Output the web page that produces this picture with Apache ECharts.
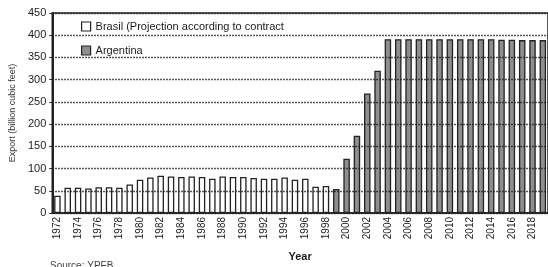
<!DOCTYPE html>
<html>
<head>
<meta charset="utf-8">
<script src="https://cdn.jsdelivr.net/npm/echarts@6/dist/echarts.min.js"></script>
<style>
  html, body { margin: 0; padding: 0; background: #fff; }
  #cv { width: 548px; height: 267px; }
</style>
</head>
<body>
<div id="cv"></div>
<script>
var years = [];
for (var y = 1972; y <= 2019; y++) years.push(String(y));

// Brasil (projection according to contract), 1972-1998
var brasil = [39, 57, 57, 55, 58, 58, 57, 64, 75, 80, 84, 82, 81, 82, 81, 77, 82, 81, 81, 79, 77, 77, 80, 75, 77, 59, 61];
// Argentina, 1999-2019
var argentina = [54, 122, 174, 269, 320, 391, 391, 391, 391, 391, 391, 391, 391, 391, 391, 391, 390, 390, 389, 389, 389];

var yTicks = { min: 0, max: 450, interval: 50 };

var brasilData = years.map(function (d, i) { return i < brasil.length ? brasil[i] : null; });
var argData = years.map(function (d, i) {
    var k = i - brasil.length;
    return k >= 0 ? argentina[k] : null;
});

var chart = echarts.init(document.getElementById('cv'));
var txt = '#1c1c1c';
var font = 'Liberation Sans';

var option = {
    animation: false,
    backgroundColor: '#fff',
    textStyle: { fontFamily: font, color: txt },
    grid: {
        left: 47, top: 13, right: -4, bottom: 45,
        show: true, borderColor: '#222', borderWidth: 1.5, backgroundColor: 'transparent'
    },
    legend: {
        orient: 'vertical',
        left: 76, top: 16,
        z: 10,
        itemWidth: 9, itemHeight: 9, itemGap: 13,
        textStyle: { fontFamily: font, fontSize: 11, color: txt },
        data: [
            { name: 'Brasil (Projection according to contract', icon: 'rect',
              itemStyle: { color: '#fff', borderColor: '#222', borderWidth: 1.2 } },
            { name: 'Argentina', icon: 'rect',
              itemStyle: { color: '#8e8e8e', borderColor: '#222', borderWidth: 1.2 } }
        ]
    },
    xAxis: {
        type: 'category',
        data: years,
        name: 'Year',
        nameLocation: 'middle',
        nameGap: 38,
        nameTextStyle: { fontFamily: font, fontSize: 11, fontWeight: 'bold', color: txt },
        axisLine: { lineStyle: { color: '#222', width: 1.5 } },
        axisTick: { show: false },
        axisLabel: { interval: 1, rotate: 90, fontSize: 10, color: txt, margin: 4 }
    },
    yAxis: {
        type: 'value',
        min: yTicks.min, max: yTicks.max, interval: yTicks.interval,
        z: 5,
        name: 'Export (billion cubic feet)',
        nameLocation: 'middle',
        nameGap: 33,
        nameTextStyle: { fontFamily: font, fontSize: 9, color: '#333' },
        axisLine: { show: true, lineStyle: { color: '#222', width: 2 } },
        axisTick: { show: true, length: 3, lineStyle: { color: '#222' } },
        axisLabel: { fontSize: 11, color: txt, margin: 6 },
        splitLine: { show: true, lineStyle: { color: '#222', type: [1.5, 1.5], width: 1.3 } }
    },
    series: [
        {
            name: 'Brasil (Projection according to contract',
            type: 'bar',
            data: brasilData,
            barWidth: 6.5,
            barGap: '-100%',
            itemStyle: { color: '#fff', borderColor: '#222', borderWidth: 1.3 }
        },
        {
            name: 'Argentina',
            type: 'bar',
            data: argData,
            barWidth: 6.5,
            itemStyle: { color: '#8e8e8e', borderColor: '#222', borderWidth: 1.3 }
        }
    ],
    graphic: [
        { type: 'text', left: 50, top: 261,
          style: { text: 'Source: YPFB', fontFamily: font, fontSize: 10, fill: '#444' } }
    ]
};
chart.setOption(option);
</script>
</body>
</html>
